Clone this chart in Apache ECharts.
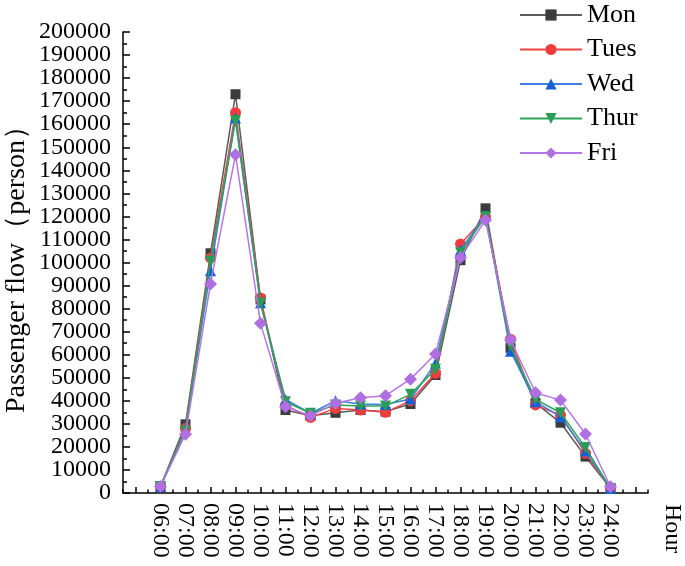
<!DOCTYPE html>
<html><head><meta charset="utf-8">
<script src="https://cdn.jsdelivr.net/npm/echarts@6/dist/echarts.min.js"></script>
<style>html,body{margin:0;padding:0;background:#fff}#c{width:685px;height:566px}</style>
</head><body><div id="c"></div>
<script>
var hours = [6,7,8,9,10,11,12,13,14,15,16,17,18,19,20,21,22,23,24];
var seriesNames = ['Mon','Tues','Wed','Thur','Fri'];
var mon  = [2800, 29800, 104000, 173000, 84000, 36000, 33500, 34800, 36000, 35300, 38600, 51200, 101000, 123500, 63000, 39000, 30500, 15800, 2000];
var tues = [2800, 28000, 102000, 165000, 84600, 38000, 32800, 36700, 36000, 35000, 40000, 51900, 108000, 119900, 66700, 38200, 33800, 17200, 2000];
var wed  = [2800, 27500, 96400, 162700, 82500, 40600, 34600, 40000, 38600, 38400, 40800, 56300, 105400, 120600, 61500, 39600, 33100, 18200, 2000];
var thur = [2800, 27000, 100500, 161500, 82300, 39600, 34600, 38200, 37700, 37700, 42800, 53700, 104200, 119900, 63800, 40600, 34800, 19700, 2000];
var fri  = [2800, 25500, 90700, 146800, 73600, 37400, 33500, 38900, 41300, 42200, 49400, 60300, 102200, 118400, 66500, 43500, 40300, 25600, 2700];
var yTicks = [0, 200000, 10000];

var font = "'Liberation Serif','Times New Roman',serif";
var majorTicks = []; for (var h = 5; h <= 25; h++) majorTicks.push(h);
var minorTicks = []; for (var m = 4.5; m <= 25.5; m += 1) minorTicks.push(m);

var styles = [
  {line:'#5a5a5a', sym:'#3c3c3c', symbol:'rect', size:10, rot:0},
  {line:'#f04444', sym:'#f03c3c', symbol:'circle', size:11, rot:0},
  {line:'#3d80e0', sym:'#1560d8', symbol:'triangle', size:11, rot:0},
  {line:'#2ea35a', sym:'#2a9d55', symbol:'triangle', size:11, rot:180},
  {line:'#b575e6', sym:'#b06fe0', symbol:'diamond', size:13, rot:0}
];
var vals = [mon, tues, wed, thur, fri];
function pairs(arr){ return hours.map(function(h,i){ return [h, arr[i]]; }); }

var series = seriesNames.map(function(n, i){
  var s = styles[i];
  return {
    name: n, type: 'line', data: pairs(vals[i]),
    symbol: s.symbol, symbolSize: s.size, symbolRotate: s.rot,
    lineStyle: {color: s.line, width: 1.5},
    itemStyle: {color: s.sym},
    color: s.sym,
    z: 2 + i
  };
});

var yLabelStyle = {fontFamily: font, fontSize: 24, color: '#000', margin: 12,
  formatter: function(v){ return String(v); }};

var chart = echarts.init(document.getElementById('c'));
chart.setOption({
  animation: false,
  backgroundColor: '#fff',
  legend: {
    orient: 'vertical', left: 514, top: -3,
    itemWidth: 62, itemHeight: 14, itemGap: 8.5,
    textStyle: {fontFamily: font, fontSize: 26, color: '#000'},
    data: seriesNames
  },
  grid: {left: 123, top: 32, width: 525, height: 461, outerBoundsMode: 'none', containLabel: false},
  xAxis: [{
    type: 'value', min: 4.5, max: 25.5,
    name: 'Hour', nameLocation: 'end', nameRotate: -90, nameGap: 24,
    nameTextStyle: {fontFamily: font, fontSize: 24, color: '#000', verticalAlign: 'middle', align: 'left', padding: [0,0,0,11]},
    axisLine: {show: true, lineStyle: {color: '#000', width: 1.5}},
    axisTick: {show: true, inside: true, length: 6, customValues: majorTicks, lineStyle: {color: '#000', width: 1.5}},
    axisLabel: {show: true, customValues: hours, rotate: -90, margin: 10, fontFamily: font, fontSize: 24, color: '#000',
      formatter: function(v){ var h = Math.round(v); return (h < 10 ? '0' + h : '' + h) + ':00'; }},
    splitLine: {show: false}
  }, {
    type: 'value', min: 4.5, max: 25.5, position: 'bottom',
    axisLine: {show: false},
    axisTick: {show: true, inside: true, length: 3.5, customValues: minorTicks, lineStyle: {color: '#000', width: 1.5}},
    axisLabel: {show: false},
    splitLine: {show: false}
  }],
  yAxis: [{
    type: 'value', min: yTicks[0], max: yTicks[1], interval: yTicks[2],
    name: 'Passenger flow（person）', nameLocation: 'middle', nameGap: 92, nameRotate: 90, nameMoveOverlap: false,
    nameTextStyle: {fontFamily: font, fontSize: 28, color: '#000'},
    axisLine: {show: true, lineStyle: {color: '#000', width: 1.5}},
    axisTick: {show: true, inside: true, length: 7, lineStyle: {color: '#000', width: 1.5}},
    minorTick: {show: true, splitNumber: 2, length: 4, lineStyle: {color: '#000', width: 1.5}},
    axisLabel: Object.assign({interval: 0, showMinLabel: false, showMaxLabel: false}, yLabelStyle),
    splitLine: {show: false}
  }, {
    type: 'value', min: yTicks[0], max: yTicks[1], position: 'left',
    axisLine: {show: false},
    axisTick: {show: false},
    axisLabel: Object.assign({customValues: [yTicks[0], yTicks[1]]}, yLabelStyle),
    splitLine: {show: false}
  }],
  series: series
});
</script></body></html>
